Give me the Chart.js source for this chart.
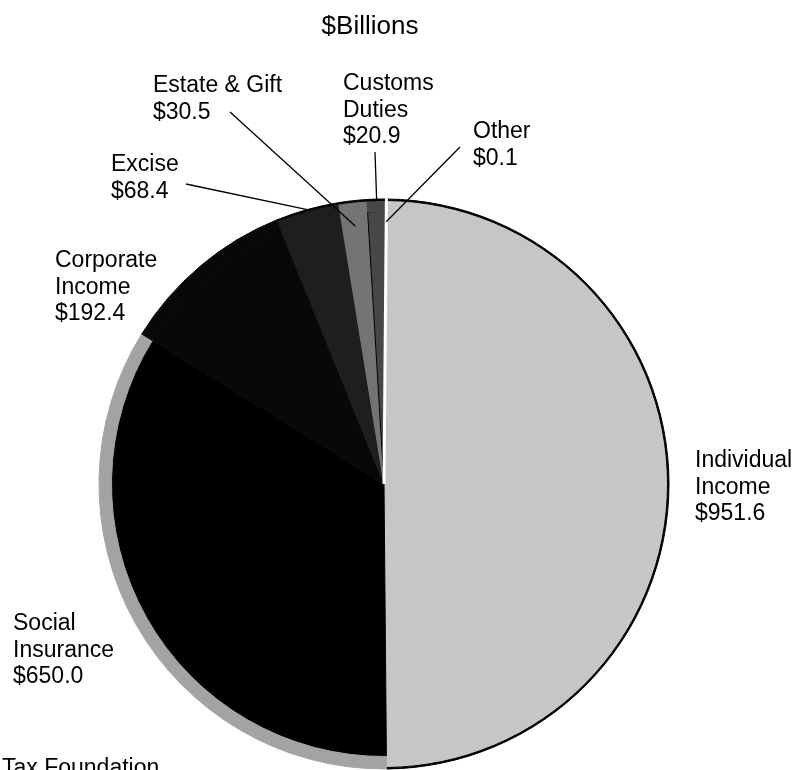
<!DOCTYPE html>
<html>
<head>
<meta charset="utf-8">
<script src="https://cdn.jsdelivr.net/npm/chart.js@4"></script>
<style>
  body { margin: 0; background: #fff; }
  canvas { display: block; }
</style>
</head>
<body>
<canvas id="myChart" width="811" height="770"></canvas>
<script>
//call the html element where the chart will appear
var ctx = document.getElementById('myChart').getContext('2d');

var categories = ["Individual Income", "Social Insurance", "Corporate Income", "Excise", "Estate & Gift", "Customs Duties", "Other"];
var values = [951.6, 650.0, 192.4, 68.4, 30.5, 20.9, 0.1];
var labelLines = [
  ["Individual", "Income", "$951.6"],
  ["Social", "Insurance", "$650.0"],
  ["Corporate", "Income", "$192.4"],
  ["Excise", "$68.4"],
  ["Estate & Gift", "$30.5"],
  ["Customs", "Duties", "$20.9"],
  ["Other", "$0.1"]
];

// greys of the printed slices (inner fill, outer band, rim)
var fillColors = ['#c6c6c6', '#000000', '#080808', '#1e1e1e', '#747474', '#474747', '#ffffff'];
var bandColors = ['#c6c6c6', '#a3a3a3', '#080808', '#1e1e1e', '#747474', '#474747', '#ffffff'];
var rimColors  = ['#000000', '#a3a3a3', '#080808', '#000000', '#000000', '#000000', '#ffffff'];
var innerBorders = ['#c6c6c6', '#000000', '#080808', '#1e1e1e', '#747474', '#000000', '#ffffff'];
var borderWidths = [1, 1, 1, 1, 1, 1, 3];

// where each label sits, and where its leader line starts
var labelPos = [
  {x: 695, y: 467},
  {x: 13, y: 630},
  {x: 55, y: 267},
  {x: 111, y: 171, from: [186, 184], at: 1.0},
  {x: 153, y: 92, from: [230, 112], at: 0.91},
  {x: 343, y: 90, from: [375, 152], at: 1.0},
  {x: 473, y: 138, from: [460, 147], at: 0.92}
];

var FONT = '23px "Liberation Sans", Arial, sans-serif';

//text labels and leader lines
var labelPlugin = {
  id: 'sliceLabels',
  afterDraw: function(chart) {
    var c = chart.ctx;
    var arcs = chart.getDatasetMeta(0).data;
    c.save();
    c.fillStyle = '#000';
    c.strokeStyle = '#000';
    c.lineWidth = 1.3;
    c.textBaseline = 'alphabetic';
    c.textAlign = 'center';
    c.font = '26px "Liberation Sans", Arial, sans-serif';
    c.fillText('$Billions', 370, 34);
    c.font = FONT;
    c.textAlign = 'left';
    labelLines.forEach(function(lines, i) {
      var p = labelPos[i];
      lines.forEach(function(t, k) {
        c.fillText(t, p.x, p.y + k * 26.5);
      });
      if (p.from) {
        var a = arcs[i];
        var mid = (a.startAngle + a.endAngle) / 2;
        var r = a.outerRadius * p.at;
        c.beginPath();
        c.moveTo(p.from[0], p.from[1]);
        c.lineTo(a.x + r * Math.cos(mid), a.y + r * Math.sin(mid));
        c.stroke();
      }
    });
    c.fillText('Tax Foundation', 2, 775);
    c.restore();
  }
};

var myChart = new Chart(ctx, {
  type: 'pie',
  data: {
    labels: categories,
    datasets: [
      {data: values, backgroundColor: rimColors, borderColor: rimColors, borderWidth: borderWidths, weight: 1.5},
      {data: values, backgroundColor: bandColors, borderColor: bandColors, borderWidth: borderWidths, weight: 11},
      {data: values, backgroundColor: fillColors, borderColor: innerBorders, borderWidth: borderWidths, weight: 272.5}
    ]
  },
  options: {
    responsive: false,
    animation: false,
    events: [],
    rotation: 0.5,
    radius: 285,
    hoverOffset: 0,
    layout: {padding: {left: 0, right: 43, top: 198, bottom: 0}},
    plugins: {
      legend: {display: false},
      title: {display: false},
      tooltip: {enabled: false}
    }
  },
  plugins: [labelPlugin]
});
</script>
</body>
</html>
